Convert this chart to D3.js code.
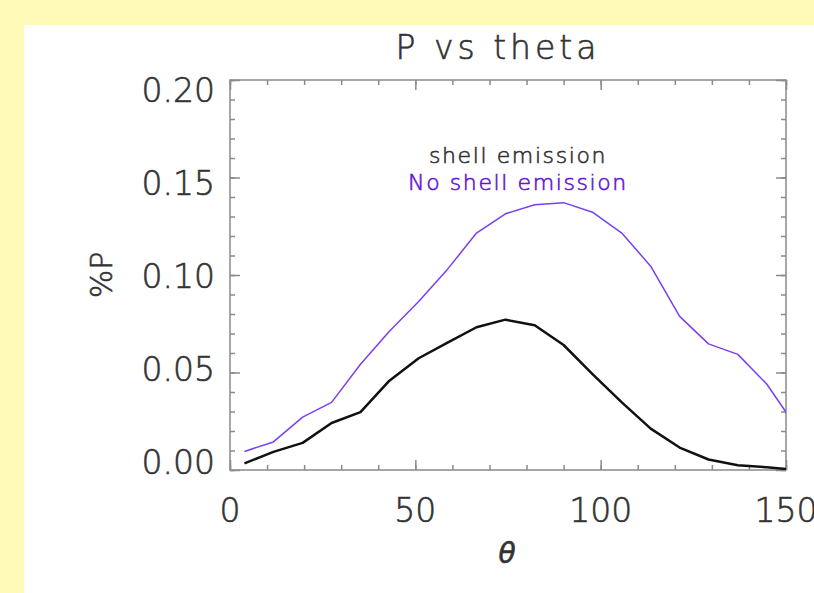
<!DOCTYPE html>
<html>
<head>
<meta charset="utf-8">
<script src="https://cdn.jsdelivr.net/npm/d3@7"></script>
<style>
  html, body { margin: 0; padding: 0; background: #fffab8; }
  svg { display: block; }
</style>
</head>
<body>
<div id="chart"></div>
<script>
// theta bin centres (23 bins over 0-180, only the first 20 shown)
const theta = [3.9, 11.7, 19.6, 27.4, 35.2, 43.0, 50.9, 58.7, 66.5, 74.3,
               82.2, 90.0, 97.8, 105.7, 113.5, 121.3, 129.1, 137.0, 144.8, 152.6];
const shellP = [0.0034, 0.0093, 0.0139, 0.0241, 0.0297, 0.0458, 0.0573, 0.0653, 0.0732, 0.0771,
                0.0742, 0.0641, 0.0492, 0.0347, 0.0212, 0.0115, 0.0054, 0.0024, 0.0014, 0.0001];
const noShellP = [0.0095, 0.0144, 0.0271, 0.0347, 0.0542, 0.0712, 0.0864, 0.1030, 0.1215, 0.1314,
                  0.1360, 0.1371, 0.1322, 0.1215, 0.1045, 0.0788, 0.0647, 0.0593, 0.0441, 0.0225];
const xTicks = [0, 50, 100, 150];
const yTicks = [0, 0.05, 0.10, 0.15, 0.20];
const legendLabels = ["shell emission", "No shell emission"];

const width = 814, height = 593;
const margins = {top: 80, right: 28, bottom: 123, left: 230};
const font = "'DejaVu Sans', sans-serif";
const axisColor = "#8a8a8a", textColor = "#333";

const svg = d3.select("#chart")
  .append("svg")
    .attr("width", width)
    .attr("height", height);

// white panel on the yellow page
svg.append("rect")
  .attr("x", 24).attr("y", 25)
  .attr("width", width - 24).attr("height", height - 25)
  .attr("fill", "#fff");

const xScale = d3.scaleLinear()
  .domain([0, 150])
  .range([margins.left, width - margins.right]);

const yScale = d3.scaleLinear()
  .domain([0, 0.20])
  .range([height - margins.bottom, margins.top]);

// the y labels sit slightly inside the tick span in the original
const yLabel = d3.scaleLinear()
  .domain([0, 0.20])
  .range([462, 90]);

const x0 = xScale.range()[0], x1 = xScale.range()[1];
const y0 = yScale.range()[0], y1 = yScale.range()[1];

// thin font, thickened a little with a stroke
const styleText = (sel, size, color) => sel
  .style("font-family", font)
  .style("font-size", size + "px")
  .style("font-weight", 200)
  .style("fill", color)
  .style("stroke", color)
  .style("stroke-width", 0.6);

/* tick marks on all four sides, pointing inwards */
const minorX = d3.range(0, 151, 10), majorX = xTicks;
const minorY = d3.range(0, 21).map(d => d / 100), majorY = yTicks;

function ticks(axis, vals, size, transform) {
  const g = svg.append("g")
    .attr("transform", transform)
    .call(axis.tickValues(vals).tickSize(size).tickFormat(""));
  g.select(".domain").remove();
  g.selectAll("line").attr("stroke", axisColor).attr("stroke-width", 1.5);
}
ticks(d3.axisBottom(xScale), minorX, -5, `translate(0,${y0})`);
ticks(d3.axisBottom(xScale), majorX, -10, `translate(0,${y0})`);
ticks(d3.axisTop(xScale), minorX, -5, `translate(0,${y1})`);
ticks(d3.axisTop(xScale), majorX, -10, `translate(0,${y1})`);
ticks(d3.axisLeft(yScale), minorY, -5, `translate(${x0},0)`);
ticks(d3.axisLeft(yScale), majorY, -10, `translate(${x0},0)`);
ticks(d3.axisRight(yScale), minorY, -5, `translate(${x1},0)`);
ticks(d3.axisRight(yScale), majorY, -10, `translate(${x1},0)`);

svg.append("rect")
  .attr("x", x0).attr("y", y1)
  .attr("width", x1 - x0).attr("height", y0 - y1)
  .attr("fill", "none")
  .attr("stroke", axisColor)
  .attr("stroke-width", 1.5);

/* tick labels */
svg.selectAll("text.xlab")
  .data(xTicks)
  .join("text")
    .attr("class", "xlab")
    .attr("x", d => xScale(d))
    .attr("y", 522)
    .attr("text-anchor", "middle")
    .call(styleText, 33, textColor)
    .text(d => d);

svg.selectAll("text.ylab")
  .data(yTicks)
  .join("text")
    .attr("class", "ylab")
    .attr("x", 215)
    .attr("y", d => yLabel(d))
    .attr("dy", "0.36em")
    .attr("text-anchor", "end")
    .call(styleText, 33, textColor)
    .text(d => d.toFixed(2));

/* titles */
svg.append("text")
  .attr("x", 498).attr("y", 59)
  .attr("text-anchor", "middle")
  .call(styleText, 33, textColor)
  .style("letter-spacing", "4px")
  .text("P vs theta");

svg.append("text")
  .attr("x", 507).attr("y", 563)
  .attr("text-anchor", "middle")
  .call(styleText, 28, textColor)
  .style("font-style", "italic")
  .text("θ");

svg.append("text")
  .attr("transform", "translate(112,275) rotate(-90)")
  .attr("text-anchor", "middle")
  .call(styleText, 30, textColor)
  .text("%P");

/* lines */
svg.append("clipPath")
  .attr("id", "plotclip")
  .append("rect")
    .attr("x", x0).attr("y", y1)
    .attr("width", x1 - x0).attr("height", y0 - y1);

const line = d3.line()
  .x(d => xScale(d[0]))
  .y(d => yScale(d[1]));

const series = [
  {name: legendLabels[0], values: shellP, color: "#111", text: "#333", width: 2.5},
  {name: legendLabels[1], values: noShellP, color: "#7a3ff0", text: "#6614d6", width: 1.5}
];

svg.selectAll("path.series")
  .data(series)
  .join("path")
    .attr("class", "series")
    .attr("clip-path", "url(#plotclip)")
    .attr("d", s => line(theta.map((t, i) => [t, s.values[i]])))
    .attr("fill", "none")
    .attr("stroke", s => s.color)
    .attr("stroke-width", s => s.width)
    .attr("stroke-linejoin", "round");

/* legend */
svg.selectAll("text.legend")
  .data(series)
  .join("text")
    .attr("class", "legend")
    .attr("x", 518)
    .attr("y", (s, i) => 163 + i * 27)
    .attr("text-anchor", "middle")
    .each(function(s) { d3.select(this).call(styleText, 22, s.text); })
    .style("letter-spacing", "1.6px")
    .text(s => s.name);
</script>
</body>
</html>
